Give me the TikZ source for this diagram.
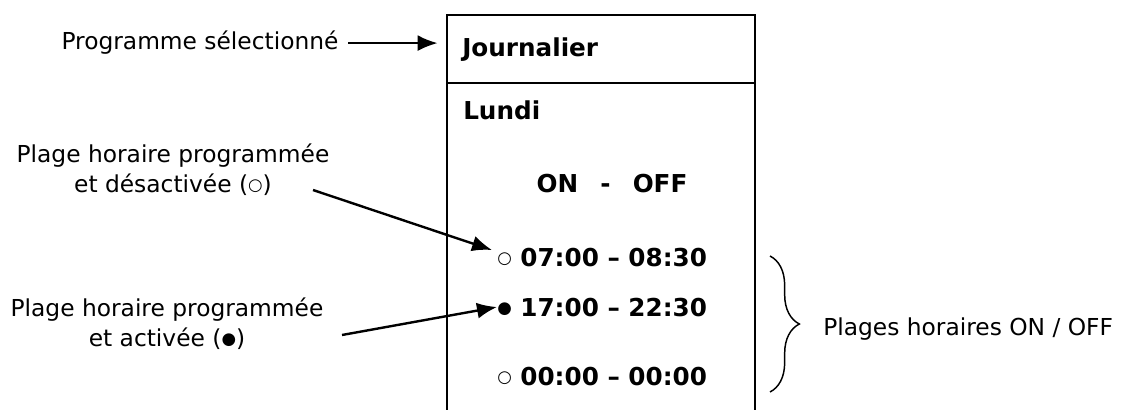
\documentclass[tikz,border=0pt]{standalone}
\usepackage{fontspec}
\setmainfont{DejaVu Sans}
\usetikzlibrary{arrows.meta,decorations.pathreplacing}
\newcommand{\offsym}{\raisebox{1.6pt}{\mdseries\fontsize{12.5}{12.5}\selectfont ○}}
\newcommand{\onsym}{\raisebox{1.6pt}{\mdseries\fontsize{12.5}{12.5}\selectfont ●}}

\begin{document}
\begin{tikzpicture}[x=0.75pt,y=-0.75pt,
  every node/.style={font=\fontsize{17.5}{22.5}\selectfont,inner sep=0pt},
  cell/.style={anchor=base west,font=\fontsize{18.5}{22}\selectfont\bfseries},
  lbl/.style={align=center},
  frame/.style={line width=1.9pt},
  ar/.style={-{Latex[length=15pt,width=12pt]},line width=1.8pt}]
\useasboundingbox (0,0) rectangle (1122,410);
% cadre de l'ecran
\coordinate (ftl) at (447,15); \coordinate (ftr) at (755,15);
\coordinate (fbl) at (447,410); \coordinate (fbr) at (755,410);
\coordinate (fsl) at (447,83); \coordinate (fsr) at (755,83);
\draw[frame] (fbl) -- (ftl) -- (ftr) -- (fbr);
\draw[frame] (fsl) -- (fsr);
\node[cell] (jour) at (462,57) {Journalier};
\node[cell] (lundi) at (463,120) {Lundi};
\node[cell,anchor=base] (onoff) at (612,192) {ON\hspace{0.9em}-\hspace{0.9em}OFF};
\node[cell] (t1) at (497,266) {\offsym{} 07:00 – 08:30};
\node[cell] (t2) at (497,316) {\onsym{} 17:00 – 22:30};
\node[cell] (t3) at (497,385) {\offsym{} 00:00 – 00:00};
% legendes
\node[anchor=base] (sel) at (200,50) {Programme sélectionné};
\node[lbl] (des) at (173,170) {Plage horaire programmée\\et désactivée (\offsym)};
\node[lbl] (act) at (167,324) {Plage horaire programmée\\et activée (\onsym)};
\node[anchor=base west] (plg) at (823,335) {Plages horaires ON / OFF};
\coordinate (des-a) at (313,190);
\coordinate (act-a) at (342,335);
\coordinate (bt) at (770,256);
\coordinate (bb) at (770,392);
\draw[ar,shorten <=7pt,shorten >=7pt] (sel.east) -- (sel.east -| ftl);
\draw[ar] (des-a) -- ([shift={(-5,-7)}]t1.west);
\draw[ar] (act-a) -- (t2.west);
\draw[line width=1.1pt,decorate,decoration={brace,amplitude=22pt}] (bt) -- (bb);
\end{tikzpicture}
\end{document}
